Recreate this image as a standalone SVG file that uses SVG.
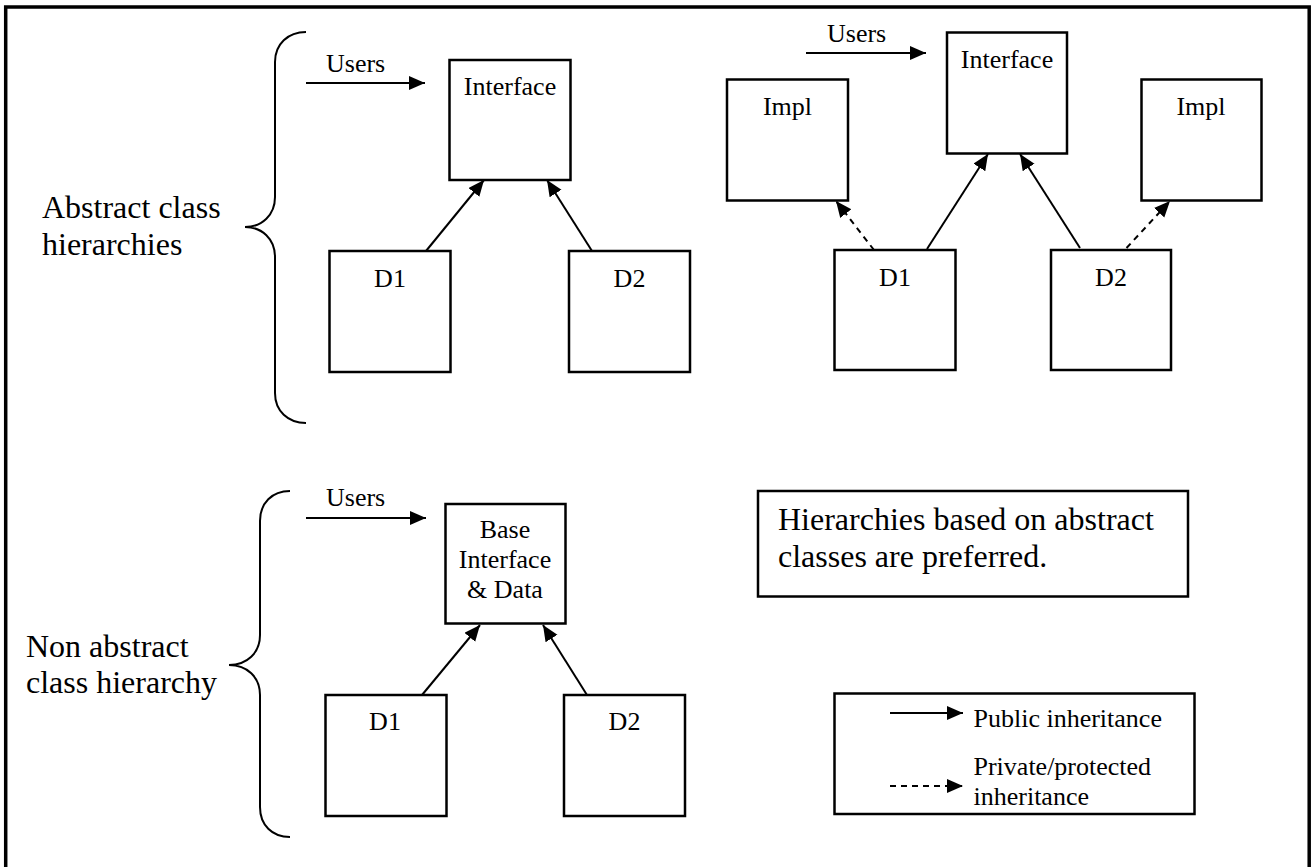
<svg xmlns="http://www.w3.org/2000/svg" width="1313" height="867" viewBox="0 0 1313 867">
  <style>
    .box { fill: #fff; stroke: #000; stroke-width: 2.5; }
    text { font-family: 'Liberation Serif', 'DejaVu Serif', serif; fill: #000; }
    .s { font-size: 26px; }
    .l { font-size: 32px; }
    .c { text-anchor: middle; }
    .edge { fill: none; stroke: #000; stroke-width: 2; }
    .dash { stroke-dasharray: 6 5; }
    .brace { fill: none; stroke: #000; stroke-width: 2; }
  </style>
  <defs>
    <marker id="ah" markerUnits="userSpaceOnUse" markerWidth="17" markerHeight="15" refX="16" refY="7" orient="auto">
      <path d="M0,0 L16,7 L0,14 z" fill="#000"/>
    </marker>
  </defs>
  <rect x="0" y="0" width="1313" height="867" fill="#fff"/>
  <rect id="frame" x="5.7" y="7" width="1303.5" height="900" fill="none" stroke="#000" stroke-width="3.5"/>

  <g id="braces">
    <path class="brace" d="M306,32 C288,32 275,44 275,62 L275,197 C275,215 262,227 245,227 C262,227 275,239 275,257 L275,393 C275,411 288,423 306,423"/>
    <path class="brace" d="M290,491 C272,491 260,503 260,521 L260,635 C260,653 247,665 229,665 C247,665 260,677 260,695 L260,807 C260,825 272,837 290,837"/>
  </g>

  <g id="labels">
    <text class="l" x="42" y="218" font-family="Liberation Serif, serif">Abstract class</text>
    <text class="l" x="42" y="255">hierarchies</text>
    <text class="l" x="26" y="657">Non abstract</text>
    <text class="l" x="26" y="693">class hierarchy</text>
    <text class="s" x="326" y="72">Users</text>
    <text class="s" x="827" y="42">Users</text>
    <text class="s" x="326" y="506">Users</text>
  </g>

  <g id="tl-interface"><rect class="box" x="449.5" y="60" width="121" height="120"/><text class="s c" x="510" y="95">Interface</text></g>
  <g id="tl-d1"><rect class="box" x="329.5" y="251" width="121" height="121"/><text class="s c" x="390" y="287">D1</text></g>
  <g id="tl-d2"><rect class="box" x="569" y="251" width="121" height="121"/><text class="s c" x="629.5" y="287">D2</text></g>

  <g id="tr-interface"><rect class="box" x="947" y="32.5" width="120" height="121"/><text class="s c" x="1007" y="68">Interface</text></g>
  <g id="tr-impl1"><rect class="box" x="727" y="79.5" width="121" height="121"/><text class="s c" x="787.5" y="115">Impl</text></g>
  <g id="tr-impl2"><rect class="box" x="1141.5" y="79.5" width="120" height="121"/><text class="s c" x="1201" y="115">Impl</text></g>
  <g id="tr-d1"><rect class="box" x="834.5" y="250" width="121" height="120"/><text class="s c" x="895" y="286">D1</text></g>
  <g id="tr-d2"><rect class="box" x="1051" y="250" width="120" height="120"/><text class="s c" x="1111" y="286">D2</text></g>

  <g id="bl-base"><rect class="box" x="445.5" y="504" width="120" height="119.5"/>
    <text class="s c" x="505" y="538">Base</text>
    <text class="s c" x="505" y="568">Interface</text>
    <text class="s c" x="505" y="598">&amp; Data</text>
  </g>
  <g id="bl-d1"><rect class="box" x="325.5" y="695" width="121" height="121"/><text class="s c" x="385" y="730">D1</text></g>
  <g id="bl-d2"><rect class="box" x="564" y="695" width="121" height="121"/><text class="s c" x="624.5" y="730">D2</text></g>

  <g id="note"><rect class="box" x="758" y="491" width="430" height="105.5"/>
    <text class="l" x="778" y="530">Hierarchies based on abstract</text>
    <text class="l" x="778" y="567">classes are preferred.</text>
  </g>

  <g id="legend"><rect class="box" x="834.5" y="693.5" width="360" height="120.5"/>
    <line class="edge" x1="890" y1="713" x2="963" y2="713" marker-end="url(#ah)"/>
    <line class="edge dash" x1="890" y1="786" x2="963" y2="786" marker-end="url(#ah)"/>
    <text class="s" x="973.5" y="727">Public inheritance</text>
    <text class="s" x="973.5" y="775">Private/protected</text>
    <text class="s" x="973.5" y="805">inheritance</text>
  </g>

  <g id="connectors">
    <line class="edge" x1="306" y1="83" x2="425" y2="83" marker-end="url(#ah)"/>
    <line class="edge" x1="426" y1="251" x2="484" y2="180" marker-end="url(#ah)"/>
    <line class="edge" x1="592" y1="251" x2="547" y2="180" marker-end="url(#ah)"/>
    <line class="edge" x1="806" y1="53" x2="926" y2="53" marker-end="url(#ah)"/>
    <line class="edge" x1="927" y1="249" x2="988" y2="154" marker-end="url(#ah)"/>
    <line class="edge" x1="1080" y1="248" x2="1020" y2="154" marker-end="url(#ah)"/>
    <line class="edge dash" x1="874" y1="250" x2="836" y2="201" marker-end="url(#ah)"/>
    <line class="edge dash" x1="1126.5" y1="248" x2="1170" y2="201" marker-end="url(#ah)"/>
    <line class="edge" x1="306" y1="518" x2="426" y2="518" marker-end="url(#ah)"/>
    <line class="edge" x1="422" y1="695" x2="480" y2="625" marker-end="url(#ah)"/>
    <line class="edge" x1="587" y1="695" x2="543" y2="625" marker-end="url(#ah)"/>
  </g>
</svg>
